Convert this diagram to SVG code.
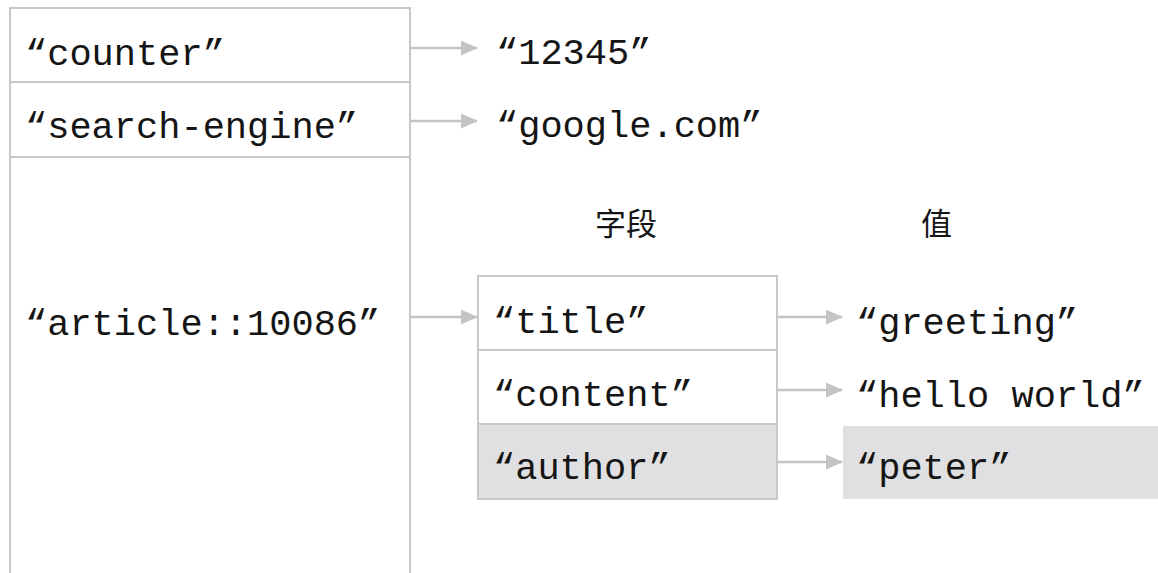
<svg xmlns="http://www.w3.org/2000/svg" width="1158" height="573" viewBox="0 0 1158 573">
<style>
.box{fill:#fff;stroke:#c8c8c8;stroke-width:2}
.grey{fill:#e0e0e2}
.t{font-family:"Liberation Mono","DejaVu Sans Mono",monospace;font-size:37px;fill:#151515}
.cn{font-family:"Noto Sans CJK SC",sans-serif;font-size:31px;fill:#151515}
.c{stroke:#c4c4c4;stroke-width:2.5;fill:none;marker-end:url(#ah)}
</style>
<defs>
<marker id="ah" markerWidth="7" markerHeight="6" refX="6.5" refY="3" orient="auto" markerUnits="strokeWidth">
<path d="M0,0 L7,3 L0,6 Z" fill="#c4c4c4"/>
</marker>
</defs>
<rect width="1158" height="573" fill="#fff"/>
<g id="outer">
<rect class="box" x="10" y="8" width="400" height="600"/>
<line x1="10" y1="82" x2="410" y2="82" stroke="#c8c8c8" stroke-width="2"/>
<line x1="10" y1="157" x2="410" y2="157" stroke="#c8c8c8" stroke-width="2"/>
</g>
<g id="k-counter"><text class="t" x="25" y="65">“counter”</text></g>
<g id="k-search"><text class="t" x="25" y="138">“search-engine”</text></g>
<g id="k-article"><text class="t" x="25" y="335">“article::10086”</text></g>
<g id="v-12345"><text class="t" x="496" y="64">“12345”</text></g>
<g id="v-google"><text class="t" x="496" y="137">“google.com”</text></g>
<g id="h-field"><text class="cn" x="595" y="235">字段</text></g>
<g id="h-value"><text class="cn" x="921" y="235">值</text></g>
<g id="hash">
<rect class="box" x="478" y="276" width="299" height="223"/>
<rect class="grey" x="479" y="424" width="297" height="74"/>
<line x1="478" y1="350" x2="777" y2="350" stroke="#c8c8c8" stroke-width="2"/>
<line x1="478" y1="424" x2="777" y2="424" stroke="#c8c8c8" stroke-width="2"/>
</g>
<g id="f-title"><text class="t" x="493" y="333">“title”</text></g>
<g id="f-content"><text class="t" x="493" y="406">“content”</text></g>
<g id="f-author"><text class="t" x="493" y="479">“author”</text></g>
<g id="v-greeting"><text class="t" x="856" y="334">“greeting”</text></g>
<g id="v-hello"><text class="t" x="856" y="407">“hello world”</text></g>
<g id="v-peter">
<rect class="grey" x="843" y="426" width="315" height="73"/>
<text class="t" x="856" y="479">“peter”</text>
</g>
<g id="connectors">
<line class="c" x1="411" y1="48" x2="477" y2="48"/>
<line class="c" x1="411" y1="121" x2="477" y2="121"/>
<line class="c" x1="411" y1="317" x2="477" y2="317"/>
<line class="c" x1="778" y1="317" x2="842" y2="317"/>
<line class="c" x1="778" y1="390" x2="842" y2="390"/>
<line class="c" x1="778" y1="462" x2="842" y2="462"/>
</g>
</svg>
